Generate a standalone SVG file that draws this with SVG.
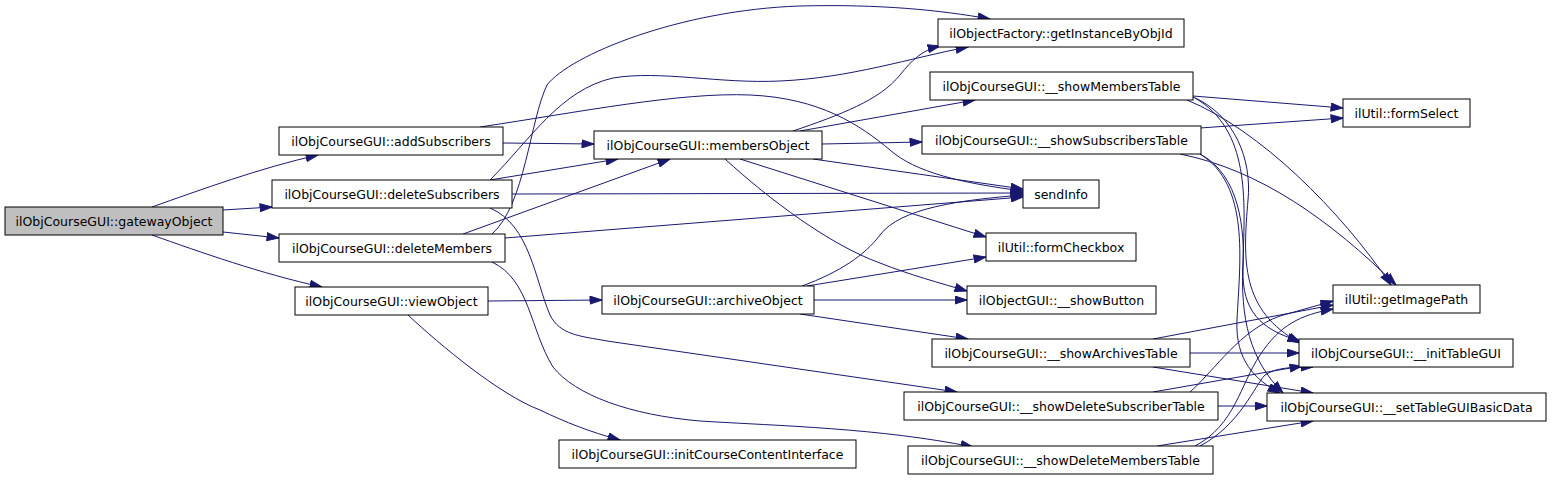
<svg xmlns="http://www.w3.org/2000/svg" width="1552" height="480" viewBox="0 0 1552 480">
<style>
.node rect{fill:#ffffff;stroke:#000000;stroke-width:1}
.node.root rect{fill:#bfbfbf}
.node text{font-family:"DejaVu Sans","Liberation Sans",sans-serif;font-size:12.5px;fill:#000000;text-anchor:middle}
.edges path{fill:none;stroke:#191970;stroke-width:1;marker-end:url(#arr)}
</style>
<defs>
<marker id="arr" markerUnits="userSpaceOnUse" markerWidth="13" markerHeight="9" viewBox="0 0 13 9" refX="12.5" refY="4.5" orient="auto">
<path d="M0.5,0.5 L12.5,4.5 L0.5,8.5 Z" fill="#191970" stroke="#191970" stroke-width="1"/>
</marker>
</defs>
<rect x="0" y="0" width="1552" height="480" fill="#ffffff"/>
<g class="edges" id="edges">
<path d="M152,207 C200,190 260,168 318,155"/>
<path d="M223,210 L272,207"/>
<path d="M223,232 L279,238"/>
<path d="M152,235 C200,252 262,274 322,287"/>
<path d="M503,143 L594,144"/>
<path d="M480,127 C580,112 680,92 750,95 C820,98 860,125 890,150 C915,172 960,183 1023,191"/>
<path d="M490,180 L618,159"/>
<path d="M490,180 C530,140 560,90 613,78 C660,70 720,84 780,81 C850,78 910,58 968,47"/>
<path d="M512,194 L1023,193"/>
<path d="M490,208 C530,225 535,280 550,315 C560,335 580,336 607,341 L957,392"/>
<path d="M463,234 L670,159"/>
<path d="M492,234 C525,205 530,120 547,85 C570,55 680,10 800,6 C880,4 940,10 990,19"/>
<path d="M505,238 L1023,197"/>
<path d="M492,262 C530,280 530,330 553,367 C575,395 630,415 700,421 C780,426 880,428 973,447"/>
<path d="M488,301 L602,300"/>
<path d="M408,315 C440,345 500,395 540,410 C565,422 590,432 620,440"/>
<path d="M793,131 C840,115 880,100 900,75 C912,60 922,50 940,46"/>
<path d="M800,131 L975,100"/>
<path d="M822,144 L922,142"/>
<path d="M813,159 L1023,189"/>
<path d="M740,159 L986,237"/>
<path d="M725,159 C770,200 830,245 880,263 C910,275 940,283 967,291"/>
<path d="M802,286 C840,272 865,255 880,235 C900,208 960,200 1023,195"/>
<path d="M807,286 L986,257"/>
<path d="M814,300 L967,300"/>
<path d="M800,314 L968,339"/>
<path d="M1193,96 L1343,108"/>
<path d="M1187,100 C1260,130 1340,210 1391,285"/>
<path d="M1193,97 C1235,115 1252,160 1248,200 C1243,260 1240,310 1300,343"/>
<path d="M1195,98 C1250,130 1245,200 1243,260 C1240,320 1250,360 1283,393"/>
<path d="M1200,128 L1343,118"/>
<path d="M1180,154 C1260,170 1330,220 1396,285"/>
<path d="M1200,154 C1240,175 1245,230 1243,270 C1242,310 1260,330 1300,341"/>
<path d="M1200,154 C1250,185 1240,260 1237,320 C1235,360 1255,380 1280,393"/>
<path d="M1153,339 L1333,305"/>
<path d="M1190,353 L1299,353"/>
<path d="M1153,367 L1313,393"/>
<path d="M1190,392 C1215,370 1240,330 1280,316 L1333,301"/>
<path d="M1153,392 L1302,366"/>
<path d="M1218,406 L1267,406"/>
<path d="M1195,446 C1235,425 1240,385 1260,355 C1280,325 1300,315 1333,309"/>
<path d="M1200,446 C1240,425 1255,385 1265,375 C1275,368 1290,367 1313,367"/>
<path d="M1157,446 L1313,421"/>
</g>
<g id="n_gatewayObject" class="node root"><rect x="5" y="207" width="218" height="28"/><text x="114" y="225.5">ilObjCourseGUI::gatewayObject</text></g>
<g id="n_addSubscribers" class="node"><rect x="279" y="127" width="224" height="28"/><text x="391" y="145.5">ilObjCourseGUI::addSubscribers</text></g>
<g id="n_deleteSubscribers" class="node"><rect x="272" y="180" width="240" height="28"/><text x="392" y="198.5">ilObjCourseGUI::deleteSubscribers</text></g>
<g id="n_deleteMembers" class="node"><rect x="279" y="234" width="226" height="28"/><text x="392" y="252.5">ilObjCourseGUI::deleteMembers</text></g>
<g id="n_viewObject" class="node"><rect x="295" y="287" width="193" height="28"/><text x="391.5" y="305.5">ilObjCourseGUI::viewObject</text></g>
<g id="n_membersObject" class="node"><rect x="594" y="131" width="228" height="28"/><text x="708" y="149.5">ilObjCourseGUI::membersObject</text></g>
<g id="n_getInstanceByObjId" class="node"><rect x="938" y="19" width="246" height="28"/><text x="1061" y="37.5">ilObjectFactory::getInstanceByObjId</text></g>
<g id="n_showMembersTable" class="node"><rect x="930" y="72" width="263" height="28"/><text x="1061.5" y="90.5">ilObjCourseGUI::__showMembersTable</text></g>
<g id="n_showSubscribersTable" class="node"><rect x="922" y="126" width="279" height="28"/><text x="1061.5" y="144.5">ilObjCourseGUI::__showSubscribersTable</text></g>
<g id="n_sendInfo" class="node"><rect x="1023" y="180" width="76" height="28"/><text x="1061" y="198.5">sendInfo</text></g>
<g id="n_formCheckbox" class="node"><rect x="986" y="233" width="150" height="28"/><text x="1061" y="251.5">ilUtil::formCheckbox</text></g>
<g id="n_archiveObject" class="node"><rect x="602" y="286" width="212" height="28"/><text x="708" y="304.5">ilObjCourseGUI::archiveObject</text></g>
<g id="n_showButton" class="node"><rect x="967" y="286" width="189" height="28"/><text x="1061.5" y="304.5">ilObjectGUI::__showButton</text></g>
<g id="n_showArchivesTable" class="node"><rect x="932" y="339" width="258" height="28"/><text x="1061" y="357.5">ilObjCourseGUI::__showArchivesTable</text></g>
<g id="n_showDeleteSubscriberTable" class="node"><rect x="904" y="392" width="314" height="28"/><text x="1061" y="410.5">ilObjCourseGUI::__showDeleteSubscriberTable</text></g>
<g id="n_showDeleteMembersTable" class="node"><rect x="908" y="446" width="305" height="28"/><text x="1060.5" y="464.5">ilObjCourseGUI::__showDeleteMembersTable</text></g>
<g id="n_initCourseContentInterface" class="node"><rect x="559" y="440" width="297" height="28"/><text x="707.5" y="458.5">ilObjCourseGUI::initCourseContentInterface</text></g>
<g id="n_formSelect" class="node"><rect x="1343" y="99" width="127" height="28"/><text x="1406.5" y="117.5">ilUtil::formSelect</text></g>
<g id="n_getImagePath" class="node"><rect x="1333" y="285" width="147" height="28"/><text x="1406.5" y="303.5">ilUtil::getImagePath</text></g>
<g id="n_initTableGUI" class="node"><rect x="1299" y="339" width="214" height="28"/><text x="1406" y="357.5">ilObjCourseGUI::__initTableGUI</text></g>
<g id="n_setTableGUIBasicData" class="node"><rect x="1267" y="393" width="279" height="28"/><text x="1406.5" y="411.5">ilObjCourseGUI::__setTableGUIBasicData</text></g>
</svg>
